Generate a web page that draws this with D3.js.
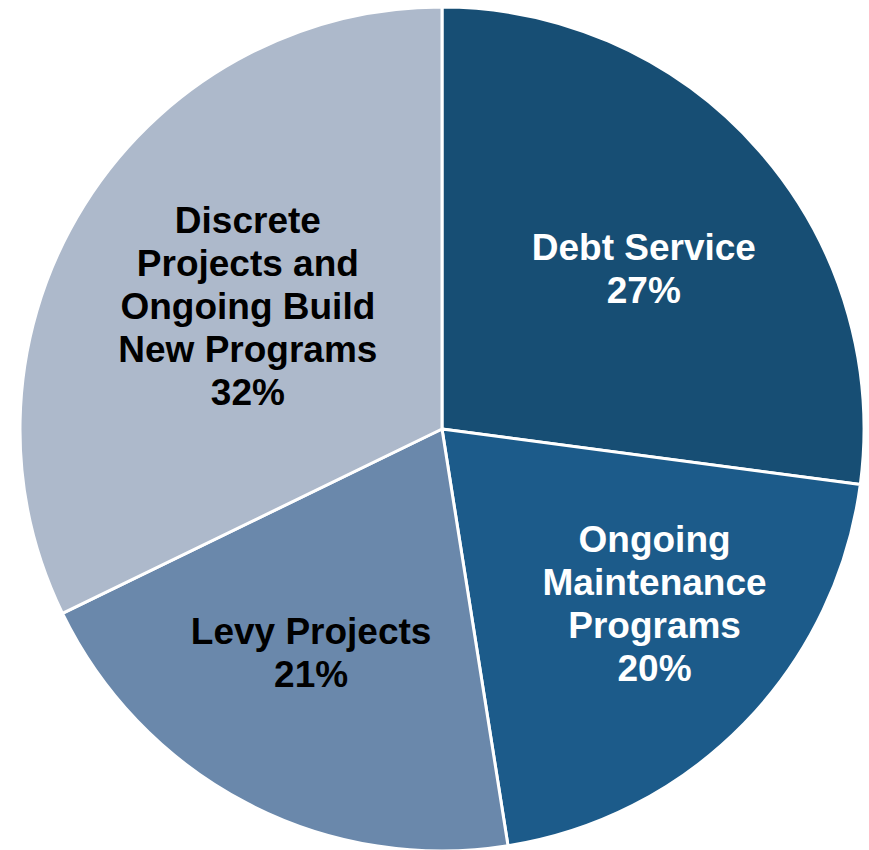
<!DOCTYPE html>
<html>
<head>
<meta charset="utf-8">
<script src="https://cdn.jsdelivr.net/npm/d3@7"></script>
<style>
  html, body { margin: 0; padding: 0; background: #fff; }
  svg { display: block; }
  text { font-family: "Liberation Sans", Arial, sans-serif; font-weight: bold; }
</style>
</head>
<body>
<svg id="chart" width="869" height="850"></svg>
<script>
const categories = [
    ['Debt Service'],
    ['Ongoing', 'Maintenance', 'Programs'],
    ['Levy Projects'],
    ['Discrete', 'Projects and', 'Ongoing Build', 'New Programs']
];
const shares = [27.1, 20.4, 20.3, 32.2];
const pctLabels = ['27%', '20%', '21%', '32%'];

const colors = ['#174e74', '#1c5b8a', '#6a88ab', '#adb9cb'];
const textColors = ['#fff', '#fff', '#000', '#000'];

const width = 869;
const height = 850;
const cx = 442;
const cy = 429;
const radius = 422;
const fontSize = 37;
const lineHeight = 43;

// small hand nudges so labels sit where the original placed them
const nudge = [[10, 7], [30, -4], [-13, -3], [22, 12]];

const svg = d3.select('#chart');
const g = svg.append('g').attr('transform', 'translate(' + cx + ',' + cy + ')');

const pie = d3.pie().sort(null).value(function(d) { return d; });
const arc = d3.arc().innerRadius(0).outerRadius(radius);
const labelArc = d3.arc().innerRadius(255).outerRadius(255);

const arcs = pie(shares);

g.selectAll('path').data(arcs)
    .enter().append('path')
    .attr('d', arc)
    .attr('fill', function(d, i) { return colors[i]; })
    .attr('stroke', '#fff')
    .attr('stroke-width', 3)
    .attr('stroke-linejoin', 'round');

const label = g.selectAll('text').data(arcs)
    .enter().append('text')
    .attr('text-anchor', 'middle')
    .attr('font-size', fontSize)
    .attr('fill', function(d, i) { return textColors[i]; })
    .attr('transform', function(d, i) {
        const c = labelArc.centroid(d);
        return 'translate(' + (c[0] + nudge[i][0]) + ',' + (c[1] + nudge[i][1]) + ')';
    });

label.each(function(d, i) {
    const lines = categories[i].concat([pctLabels[i]]);
    const top = -(lines.length - 1) * lineHeight / 2 + fontSize * 0.36;
    d3.select(this).selectAll('tspan').data(lines)
        .enter().append('tspan')
        .attr('x', 0)
        .attr('y', function(t, j) { return top + j * lineHeight; })
        .text(function(t) { return t; });
});
</script>
</body>
</html>
